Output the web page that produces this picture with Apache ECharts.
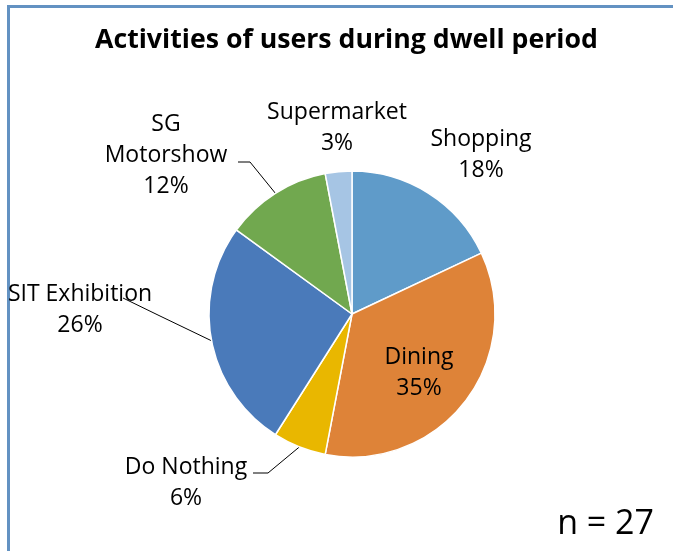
<!DOCTYPE html>
<html>
<head>
<meta charset="utf-8">
<style>
  html, body { margin: 0; padding: 0; background: #fff; }
  #chart { width: 673px; height: 551px; }
</style>
<script src="https://cdn.jsdelivr.net/npm/echarts@6/dist/echarts.min.js"></script>
</head>
<body>
<div id="chart"></div>
<script>
// Share of users by activity (percent), clockwise from 12 o'clock
const categories = ['Shopping', 'Dining', 'Do Nothing', 'SIT Exhibition', 'SG Motorshow', 'Supermarket'];
const shares = [18, 35, 6, 26, 12, 3];
const sliceColors = ['#5f9bc9', '#de8338', '#e9b700', '#4a7aba', '#71a84f', '#a6c5e4'];
const sampleNote = 'n = 27';

// Label placement per slice: text centre and optional leader-line bends
const labelSpots = {
  'Shopping':       { x: 481, y: 155 },
  'Dining':         { x: 419, y: 373 },
  'Do Nothing':     { x: 186, y: 483, line: [[268, 473], [253, 473]] },
  'SIT Exhibition': { x: 80,  y: 310, line: [[160, 316], [123, 298]] },
  'SG Motorshow':   { x: 166, y: 155, line: [[250, 162], [238, 162]] },
  'Supermarket':    { x: 337, y: 128 }
};

const chart = echarts.init(document.getElementById('chart'), null, { renderer: 'canvas' });

const labelFont = '"Open Sans", sans-serif';

chart.setOption({
  animation: false,
  title: {
    text: 'Activities of users during dwell period',
    left: 90,
    top: 22,
    textStyle: { fontFamily: labelFont, fontWeight: 'bold', fontSize: 26.7, color: '#000' }
  },
  graphic: [
    {
      type: 'rect',
      shape: { x: 8.5, y: 6.5, width: 700, height: 600 },
      style: { fill: 'none', stroke: '#6392c2', lineWidth: 3 }
    },
    {
      type: 'text',
      right: 19,
      top: 507,
      style: { text: sampleNote, font: '34px "Open Sans", sans-serif', fill: '#000' }
    }
  ],
  series: [{
    type: 'pie',
    center: [352, 314],
    radius: 143,
    startAngle: 90,
    clockwise: true,
    avoidLabelOverlap: false,
    itemStyle: { borderColor: '#fff', borderWidth: 1.5 },
    label: {
      show: true,
      position: 'outside',
      fontFamily: labelFont,
      fontSize: 23,
      lineHeight: 31,
      color: '#000',
      align: 'center',
      formatter: p => (p.name === 'SG Motorshow' ? 'SG\nMotorshow' : p.name) + '\n' + p.value + '%'
    },
    labelLine: { show: true, lineStyle: { color: '#000', width: 1 } },
    labelLayout: params => {
      const spot = labelSpots[categories[params.dataIndex]];
      const out = { x: spot.x, y: spot.y, align: 'center', verticalAlign: 'middle' };
      if (spot.line && params.labelLinePoints) {
        out.labelLinePoints = [params.labelLinePoints[0], spot.line[0], spot.line[1]];
      }
      return out;
    },
    data: categories.map((name, i) => ({
      name,
      value: shares[i],
      itemStyle: { color: sliceColors[i] },
      labelLine: { show: !!labelSpots[name].line }
    }))
  }]
});
</script>
</body>
</html>
